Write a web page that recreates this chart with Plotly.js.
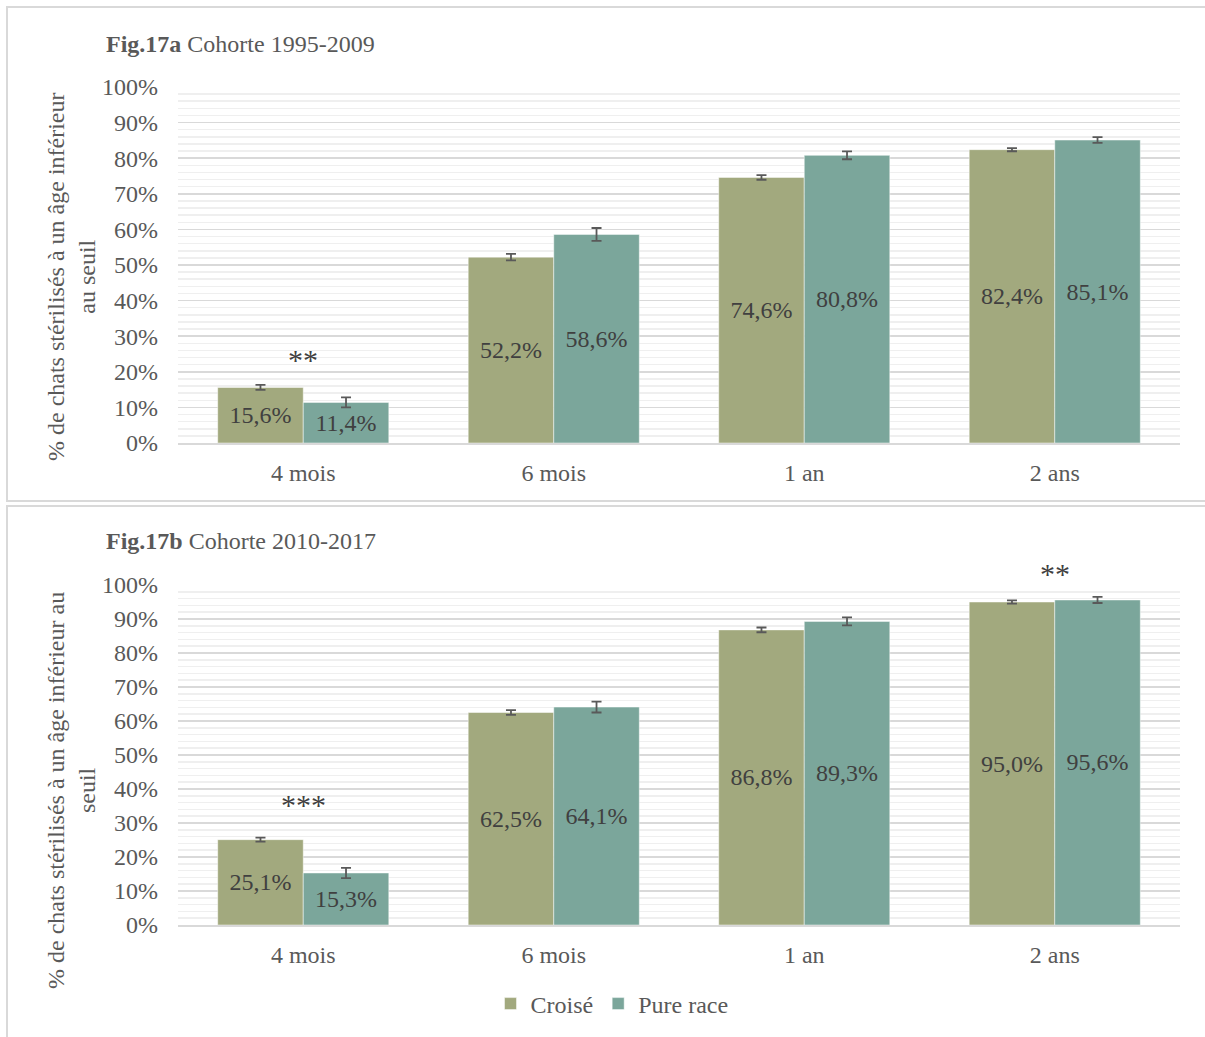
<!DOCTYPE html>
<html>
<head>
<meta charset="utf-8">
<script src="https://cdn.plot.ly/plotly-3.0.1.min.js"></script>
<style>
html,body{margin:0;padding:0;background:#fff;}
#chart{width:1205px;height:1037px;}
</style>
</head>
<body>
<div id="chart"></div>
<script>
// ---- Data ----
const categories = ['4 mois', '6 mois', '1 an', '2 ans'];
const seriesNames = ['Croisé', 'Pure race'];

// Fig.17a Cohorte 1995-2009
const croiseA = [15.6, 52.2, 74.6, 82.4];
const pureA   = [11.4, 58.6, 80.8, 85.1];
const croiseA_err = [0.7, 0.9, 0.65, 0.45];
const pureA_err   = [1.4, 1.8, 1.1, 0.8];

// Fig.17b Cohorte 2010-2017
const croiseB = [25.1, 62.5, 86.8, 95.0];
const pureB   = [15.3, 64.1, 89.3, 95.6];
const croiseB_err = [0.6, 0.7, 0.7, 0.5];
const pureB_err   = [1.5, 1.6, 1.2, 0.9];

const titleA = '<b>Fig.17a</b> Cohorte 1995-2009';
const titleB = '<b>Fig.17b</b> Cohorte 2010-2017';
const yTitleA = '% de chats stérilisés à un âge inférieur<br>au seuil';
const yTitleB = '% de chats stérilisés à un âge inférieur au<br>seuil';

// significance marks
const sigA = [{cat: '4 mois', y: 23.5, text: '**'}];
const sigB = [{cat: '4 mois', y: 30, text: '***'}, {cat: '2 ans', y: 103.5, text: '**'}];

// ---- Styling ----
const W = 1205, H = 1037;
const FONT = 'Liberation Serif, Times New Roman, serif';
const colCroise = '#a2a97e';
const colPure = '#7ba69b';
const fmt = v => v.toFixed(1).replace('.', ',') + '%';
const px = x => x / W;
const py = y => 1 - y / H;

const plotA = {top: 87, bottom: 443};
const plotB = {top: 585, bottom: 925};

function barTrace(name, vals, errs, color, xa, ya, showlegend) {
  return {
    type: 'bar', name: name, x: categories, y: vals,
    xaxis: xa, yaxis: ya, showlegend: showlegend, legendgroup: name,
    marker: {color: color, line: {color: 'rgba(255,255,255,0.6)', width: 0.8}},
    text: vals.map(fmt), textposition: 'inside', insidetextanchor: 'middle',
    textangle: 0,
    textfont: {family: FONT, size: 24, color: '#404040'},
    error_y: {type: 'data', array: errs, visible: true, color: '#595959', thickness: 1.8, width: 5},
    hoverinfo: 'skip', cliponaxis: false
  };
}

const data = [
  barTrace(seriesNames[0], croiseA, croiseA_err, colCroise, 'x', 'y', true),
  barTrace(seriesNames[1], pureA, pureA_err, colPure, 'x', 'y', true),
  barTrace(seriesNames[0], croiseB, croiseB_err, colCroise, 'x2', 'y2', false),
  barTrace(seriesNames[1], pureB, pureB_err, colPure, 'x2', 'y2', false)
];

function yAxis(domain) {
  return {
    domain: domain, range: [0, 100], dtick: 10, ticksuffix: '%',
    showgrid: true, gridcolor: '#d9d9d9', gridwidth: 1.5,
    minor: {dtick: 2, showgrid: true, gridcolor: '#efefef', gridwidth: 1.5},
    zeroline: false, showline: false, ticks: '',
    ticklabelstandoff: 19,
    tickfont: {family: FONT, size: 24, color: '#595959'},
    fixedrange: true
  };
}
function xAxis(anchor) {
  return {
    domain: [px(178), px(1180)], anchor: anchor,
    showline: true, linecolor: '#d9d9d9', linewidth: 2,
    showgrid: false, ticks: '', ticklabelstandoff: 7,
    tickfont: {family: FONT, size: 24, color: '#595959'},
    fixedrange: true
  };
}

const annotations = [
  {text: titleA, x: px(104), y: py(44), xref: 'paper', yref: 'paper', xanchor: 'left', yanchor: 'middle',
   showarrow: false, font: {family: FONT, size: 24, color: '#595959'}},
  {text: titleB, x: px(104), y: py(541), xref: 'paper', yref: 'paper', xanchor: 'left', yanchor: 'middle',
   showarrow: false, font: {family: FONT, size: 24, color: '#595959'}},
  {text: yTitleA, x: px(71), y: py(277), xref: 'paper', yref: 'paper', xanchor: 'center', yanchor: 'middle',
   textangle: -90, showarrow: false, font: {family: FONT, size: 24, color: '#595959'}},
  {text: yTitleB, x: px(71), y: py(791), xref: 'paper', yref: 'paper', xanchor: 'center', yanchor: 'middle',
   textangle: -90, showarrow: false, font: {family: FONT, size: 24, color: '#595959'}}
];
function yToPaper(panel, v) {
  return py(panel.bottom - v / 100 * (panel.bottom - panel.top));
}
sigA.forEach(s => annotations.push({text: s.text, x: s.cat, y: yToPaper(plotA, s.y), xref: 'x', yref: 'paper',
  showarrow: false, font: {family: FONT, size: 30, color: '#404040'}}));
sigB.forEach(s => annotations.push({text: s.text, x: s.cat, y: yToPaper(plotB, s.y), xref: 'x2', yref: 'paper',
  showarrow: false, font: {family: FONT, size: 30, color: '#404040'}}));

const shapes = [
  {type: 'rect', xref: 'paper', yref: 'paper', x0: px(7), x1: px(1206), y0: py(501), y1: py(7),
   line: {color: '#d9d9d9', width: 2}, fillcolor: 'rgba(0,0,0,0)'},
  {type: 'rect', xref: 'paper', yref: 'paper', x0: px(7), x1: px(1206), y0: py(1040), y1: py(506),
   line: {color: '#d9d9d9', width: 2}, fillcolor: 'rgba(0,0,0,0)'}
];

const layout = {
  width: W, height: H,
  margin: {l: 0, r: 0, t: 0, b: 0, pad: 0},
  paper_bgcolor: '#ffffff', plot_bgcolor: '#ffffff',
  barmode: 'group', bargap: 0.317, bargroupgap: 0,
  xaxis: xAxis('y'),
  yaxis: yAxis([py(plotA.bottom), py(plotA.top)]),
  xaxis2: xAxis('y2'),
  yaxis2: yAxis([py(plotB.bottom), py(plotB.top)]),
  showlegend: true,
  legend: {orientation: 'h', x: px(612), y: py(1004), xanchor: 'center', yanchor: 'middle',
           font: {family: FONT, size: 24, color: '#595959'}, itemwidth: 30, tracegroupgap: 0,
           bgcolor: 'rgba(0,0,0,0)'},
  annotations: annotations,
  shapes: shapes,
  uniformtext: {mode: false}
};

Plotly.newPlot('chart', data, layout, {displayModeBar: false, staticPlot: true});
</script>
</body>
</html>
